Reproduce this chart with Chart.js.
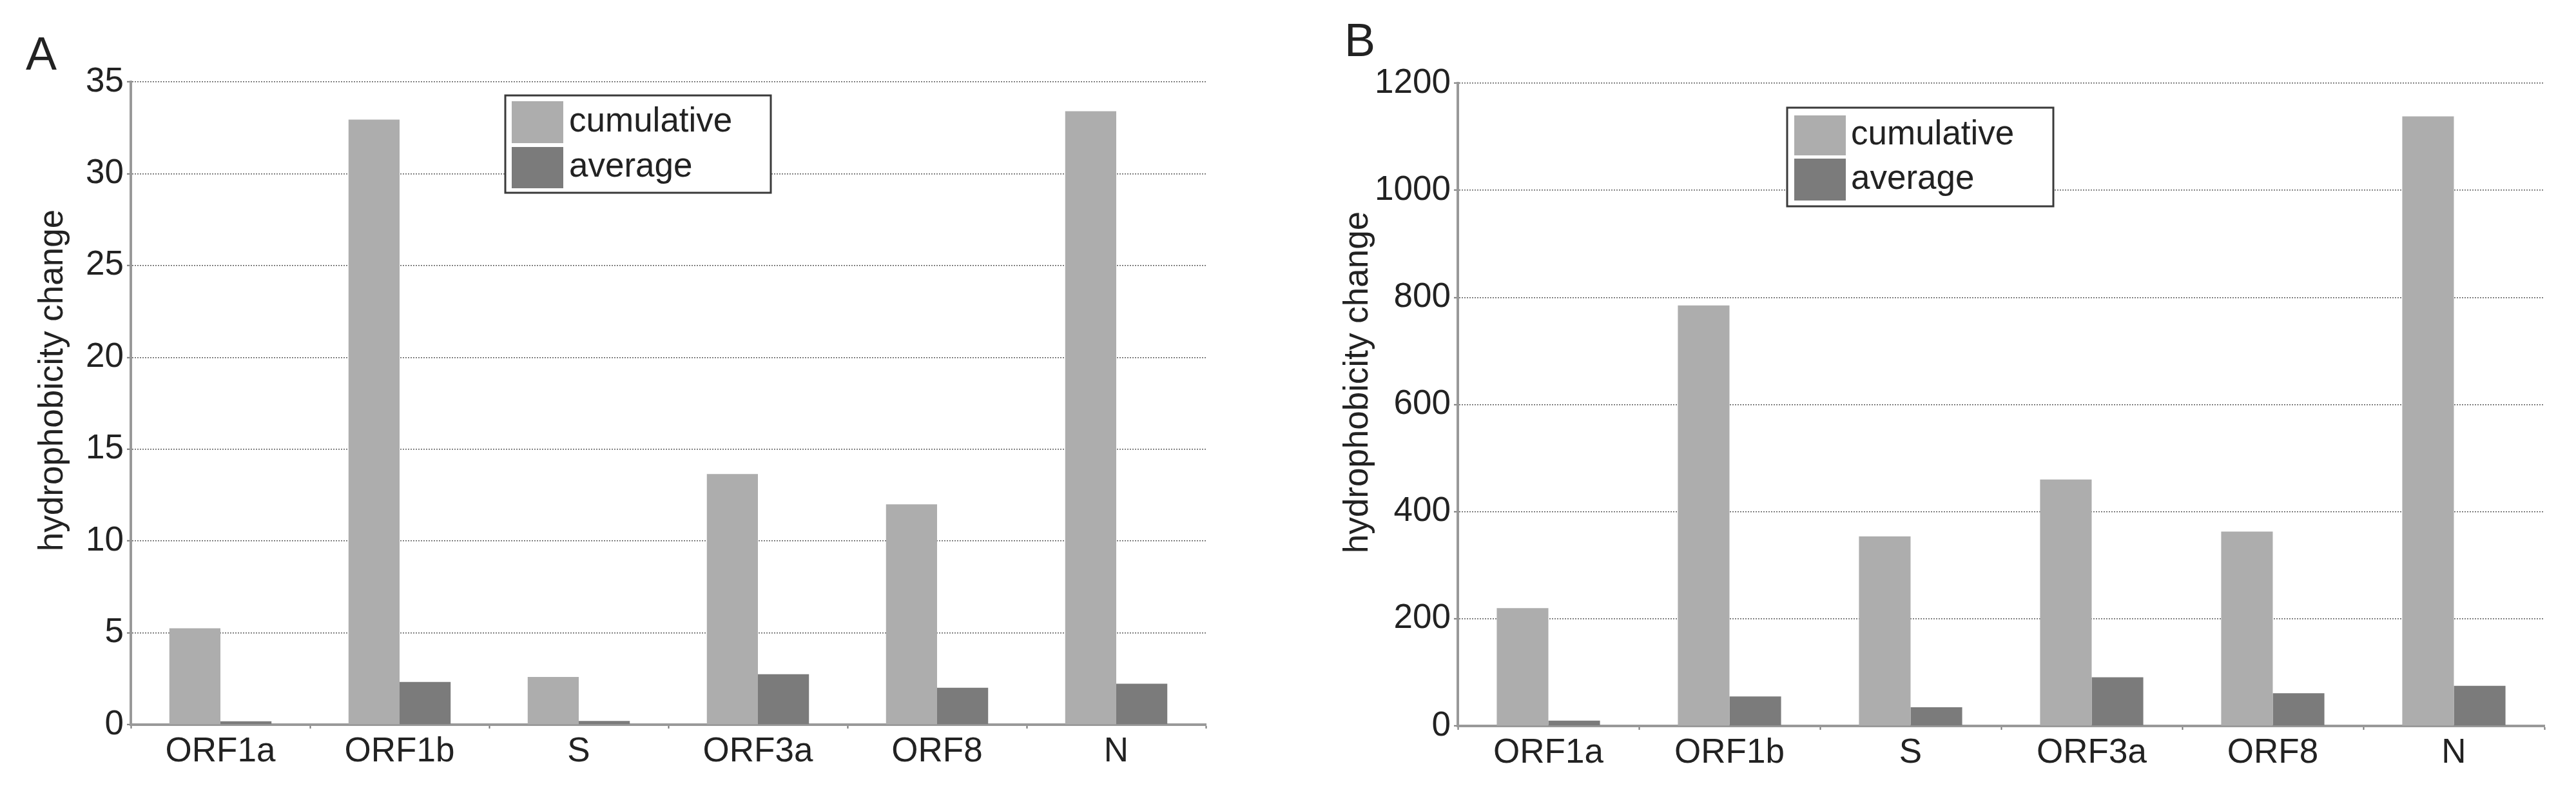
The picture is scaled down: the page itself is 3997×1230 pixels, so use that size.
<!DOCTYPE html>
<html>
<head>
<meta charset="utf-8">
<title>hydrophobicity change</title>
<script src="https://cdn.jsdelivr.net/npm/chart.js@4.4.1/dist/chart.umd.min.js"></script>
<style>
    html, body { margin: 0; padding: 0; background: #fff; }
    body { width: 3997px; height: 1230px; position: relative; overflow: hidden; font-family: "Liberation Sans", Arial, sans-serif; }
    .panel-letter { position: absolute; font-size: 72px; line-height: 1; color: #222; }
    canvas { position: absolute; top: 0; }
</style>
</head>
<body>
<div class="panel-letter" style="left:40px; top:47px;">A</div>
<div class="panel-letter" style="left:2086px; top:26px;">B</div>
<canvas id="chartA" width="1995" height="1230" style="left:0px;"></canvas>
<canvas id="chartB" width="1999" height="1230" style="left:1998px;"></canvas>
<script>
// Data
const categories = ["ORF1a", "ORF1b", "S", "ORF3a", "ORF8", "N"];
const seriesNames = ["cumulative", "average"];

const cumulativeA = [5.25, 32.95, 2.6, 13.65, 12.0, 33.4];
const averageA = [0.18, 2.33, 0.2, 2.75, 2.01, 2.23];
const ticksA = [0, 5, 10, 15, 20, 25, 30, 35];

const cumulativeB = [220, 785, 354, 460, 363, 1138];
const averageB = [10, 55, 35, 91, 61, 75];
const ticksB = [0, 200, 400, 600, 800, 1000, 1200];

const yTitle = "hydrophobicity change";

const FONT = "'Liberation Sans', Arial, sans-serif";
const TEXT_COLOR = "#222";
const CUM_COLOR = "#adadad";
const AVG_COLOR = "#7b7b7b";

/* ================= LEGEND BOX + Y TITLE PLUGIN ================= */
const legendBox = {
    id: "legendBox",
    afterDraw(chart, args, opts) {
        const ctx = chart.ctx;
        ctx.save();
        ctx.fillStyle = "#fff";
        ctx.fillRect(opts.x, opts.y, opts.w, opts.h);
        ctx.lineWidth = 3;
        ctx.strokeStyle = "#3a3a3a";
        ctx.strokeRect(opts.x, opts.y, opts.w, opts.h);
        ctx.font = "53px " + FONT;
        ctx.textBaseline = "alphabetic";
        chart.data.datasets.forEach((ds, i) => {
            const row = opts.rows[i];
            ctx.fillStyle = ds.backgroundColor;
            ctx.fillRect(opts.swatchX, row[0], opts.swatchW, row[1] - row[0]);
            ctx.fillStyle = TEXT_COLOR;
            ctx.fillText(ds.label, opts.textX, (row[0] + row[1]) / 2 + 14);
        });

        // axis title, sits a bit above the middle of the axis in the original
        ctx.translate(opts.titleX, opts.titleY);
        ctx.rotate(-Math.PI / 2);
        ctx.textAlign = "center";
        ctx.fillStyle = TEXT_COLOR;
        ctx.fillText(yTitle, 0, 0);
        ctx.restore();
    }
};

function makeChart(id, cumulative, average, tickValues, box) {
    const ctx = document.getElementById(id).getContext("2d");
    return new Chart(ctx, {
        type: "bar",
        data: {
            labels: categories,
            datasets: [
                { label: seriesNames[0], data: cumulative, backgroundColor: CUM_COLOR, borderWidth: 0 },
                { label: seriesNames[1], data: average, backgroundColor: AVG_COLOR, borderWidth: 0 }
            ]
        },
        options: {
            responsive: false,
            animation: false,
            categoryPercentage: 0.57,
            barPercentage: 1.0,
            layout: { padding: box.padding },
            plugins: {
                legend: { display: false },
                tooltip: { enabled: false },
                legendBox: box.legend
            },
            scales: {
                x: {
                    afterFit: s => { s.height = box.xHeight; },
                    grid: {
                        display: true,
                        drawOnChartArea: false,
                        drawTicks: true,
                        tickLength: 6,
                        tickWidth: 2,
                        tickColor: "#777",
                        tickBorderDash: [],
                        offset: true
                    },
                    border: { display: true, color: "#999", width: 4 },
                    ticks: {
                        color: TEXT_COLOR,
                        padding: 5,
                        maxRotation: 0,
                        font: { family: FONT, size: 53 }
                    }
                },
                y: {
                    min: tickValues[0],
                    max: tickValues[tickValues.length - 1],
                    afterFit: s => { s.width = box.yWidth; },
                    afterBuildTicks: s => { s.ticks = tickValues.map(v => ({ value: v })); },
                    grid: {
                        color: "#5c5c5c",
                        lineWidth: 1.5,
                        drawTicks: true,
                        tickLength: 6,
                        tickWidth: 2,
                        tickColor: "#777",
                        tickBorderDash: []
                    },
                    border: { display: true, color: "#999", width: 4, dash: [2, 2] },
                    ticks: {
                        color: TEXT_COLOR,
                        padding: 5,
                        font: { family: FONT, size: 53 },
                        callback: v => String(v)
                    }
                }
            }
        },
        plugins: [legendBox]
    });
}

makeChart("chartA", cumulativeA, averageA, ticksA, {
    padding: { left: 45, top: 127, right: 124, bottom: 0 },
    yWidth: 158,
    xHeight: 106,
    legend: {
        x: 784, y: 148, w: 412, h: 151, swatchX: 794, swatchW: 80,
        rows: [[157, 222], [228, 292]], textX: 883,
        titleX: 97, titleY: 590
    }
});

makeChart("chartB", cumulativeB, averageB, ticksB, {
    padding: { left: 72, top: 129, right: 49, bottom: 0 },
    yWidth: 192,
    xHeight: 104,
    legend: {
        x: 775, y: 167, w: 413, h: 153, swatchX: 786, swatchW: 80,
        rows: [[179, 241], [246, 311]], textX: 874,
        titleX: 124, titleY: 593
    }
});
</script>
</body>
</html>
